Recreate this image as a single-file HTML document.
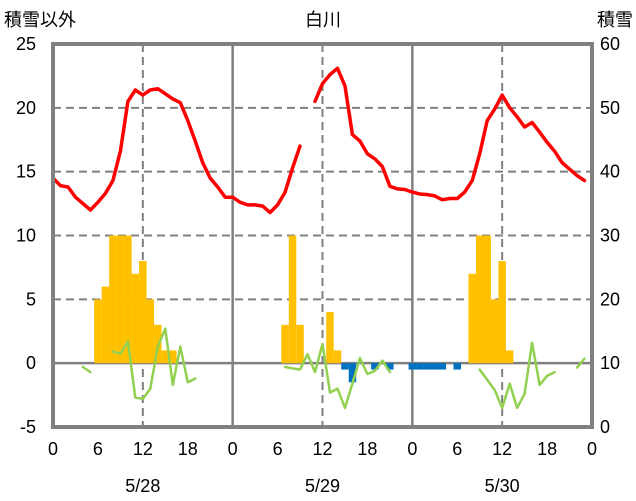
<!DOCTYPE html>
<html><head><meta charset="utf-8"><style>
html,body{margin:0;padding:0;background:#fff;}
svg{display:block;font-family:"Liberation Sans","Noto Sans CJK JP",sans-serif;}
</style></head><body>
<svg id="chart" width="636" height="501" viewBox="0 0 636 501">
<text x="4" y="26" font-size="18" fill="#000">積雪以外</text>
<text x="323" y="26" font-size="18" fill="#000" text-anchor="middle">白川</text>
<text x="633" y="26" font-size="18" fill="#000" text-anchor="end">積雪</text>
<g id="grid"></g><g id="marks"></g><g id="axes"></g>
</svg>
<script>
const days = ["5/28","5/29","5/30"];
const hourTicks = [0,6,12,18];
const leftTicks = [25,20,15,10,5,0,-5];
const rightTicks = [60,50,40,30,20,10,0];
const temperature = [
14.5,13.9,13.8,13.0,12.5,12.0,12.6,13.3,14.3,16.6,20.5,21.4,21.0,21.4,21.5,21.1,20.7,20.4,19.0,17.4,15.7,14.5,13.8,13.0,
13.0,12.6,12.4,12.4,12.3,11.8,12.4,13.4,15.3,17.0,null,20.5,21.9,22.6,23.1,21.7,17.9,17.4,16.4,16.0,15.4,13.85,13.65,13.6,
13.4,13.25,13.2,13.1,12.8,12.9,12.9,13.4,14.3,16.4,19.0,19.9,21.0,20.0,19.3,18.5,18.85,18.1,17.3,16.6,15.7,15.2,14.7,14.3];
const precipitation = [
0,0,0,0,0,0,5,6,10,10,10,7,8,5,3,1,1,0,0,0,0,0,0,0,
0,0,0,0,0,0,0,3,10,3,0,0,0,4,1,0,0,0,0,0,0,0,0,0,
0,0,0,0,0,0,0,0,7,10,10,5,8,1,0,0,0,0,0,0,0,0,0,0];
const snowChange = [
0,0,0,0,0,0,0,0,0,0,0,0,0,0,0,0,0,0,0,0,0,0,0,0,
0,0,0,0,0,0,0,0,0,0,0,0,0,0,0,-0.5,-1.5,0,0,-0.5,0,-0.5,0,0,
-0.5,-0.5,-0.5,-0.5,-0.5,0,-0.5,0,0,0,0,0,0,0,0,0,0,0,0,0,0,0,0,0];
const otherSeries = [
null,null,null,null,-0.3,-0.7,null,null,0.9,0.75,1.7,-2.7,-2.8,-2.0,1.3,2.7,-1.7,1.3,-1.5,-1.2,null,null,null,null,
null,null,null,null,null,null,null,-0.3,-0.4,-0.5,0.7,-0.7,1.5,-2.3,-2.0,-3.5,-1.6,0.4,-0.85,-0.6,0.2,-0.7,null,null,
null,null,null,null,null,null,null,null,null,-0.5,-1.3,-2.1,-3.5,-1.6,-3.5,-2.4,1.6,-1.7,-1.0,-0.7,null,null,-0.35,0.35];

const X0=53, X1=592, Y0=44, Y1=427;
const xs = h => X0 + h*(X1-X0)/72;
const yL = v => Y1 - (v+5)*(Y1-Y0)/30;
const yR = v => Y1 - v*(Y1-Y0)/60;
const NS="http://www.w3.org/2000/svg";
function mk(tag, attrs, parent){const e=document.createElementNS(NS,tag);for(const k in attrs)e.setAttribute(k,attrs[k]);parent.appendChild(e);return e;}
const grid=document.getElementById('grid'), marks=document.getElementById('marks'), axes=document.getElementById('axes');

leftTicks.forEach(v=>{
  if(v===25||v===-5) return;
  const l=mk('line',{x1:X0,x2:X1,y1:yL(v),y2:yL(v),stroke:'#808080','stroke-width':v===0?2.5:2,'stroke-dasharray':v===0?'none':'8 5'},grid);
  
  
});
for(let d=0;d<3;d++){
  const g=mk('line',{x1:xs(d*24+12),x2:xs(d*24+12),y1:Y0,y2:Y1,stroke:'#808080','stroke-width':2,'stroke-dasharray':'8 5'},grid);
  
  
  if(d>0){const s=mk('line',{x1:xs(d*24),x2:xs(d*24),y1:Y0,y2:Y1,stroke:'#808080','stroke-width':2.5},grid);
  
  }
}
// bars
precipitation.forEach((v,i)=>{ if(!v) return;
  const r=mk('rect',{x:xs(i-0.5),width:xs(1)-xs(0),y:yL(v),height:yL(0)-yL(v),fill:'#ffc000'},marks);
  
  
});
snowChange.forEach((v,i)=>{ if(!v) return;
  const r=mk('rect',{x:xs(i-0.5),width:xs(1)-xs(0),y:yL(0),height:yL(v)-yL(0),fill:'#0070c0'},marks);
  
  
});
function lines(arr,color,w,name){
  let seg=[];
  const flush=()=>{ if(seg.length>1){const p=mk('polyline',{points:seg.join(' '),fill:'none',stroke:color,'stroke-width':w,'stroke-linejoin':'round','stroke-linecap':'round'},marks);
    
    } seg=[]; };
  arr.forEach((v,i)=>{ if(v===null){flush();} else seg.push(xs(i).toFixed(1)+','+yL(v).toFixed(1)); });
  flush();
}
lines(otherSeries,'#92d050',2.5,'green-series-line');
lines(temperature,'#ff0000',3.5,'temperature-line');
// frame
const f=mk('rect',{x:X0,y:Y0,width:X1-X0,height:Y1-Y0,fill:'none',stroke:'#808080','stroke-width':4},axes);


leftTicks.forEach(v=>{const t=mk('text',{x:36,y:yL(v)+6,'font-size':18,'text-anchor':'end',fill:'#000'},axes);t.textContent=v;
  
  });
rightTicks.forEach(v=>{const t=mk('text',{x:600,y:yR(v)+6,'font-size':18,fill:'#000'},axes);t.textContent=v;
  
  });
for(let d=0;d<=3;d++){ hourTicks.forEach(h=>{ if(d===3&&h>0) return;
  const t=mk('text',{x:xs(d*24+h),y:455,'font-size':18,'text-anchor':'middle',fill:'#000'},axes);t.textContent=h;
  
  });}
days.forEach((d,i)=>{const t=mk('text',{x:xs(i*24+12),y:492,'font-size':18,'text-anchor':'middle',fill:'#000'},axes);t.textContent=d;
  
  });
</script>
</body></html>
